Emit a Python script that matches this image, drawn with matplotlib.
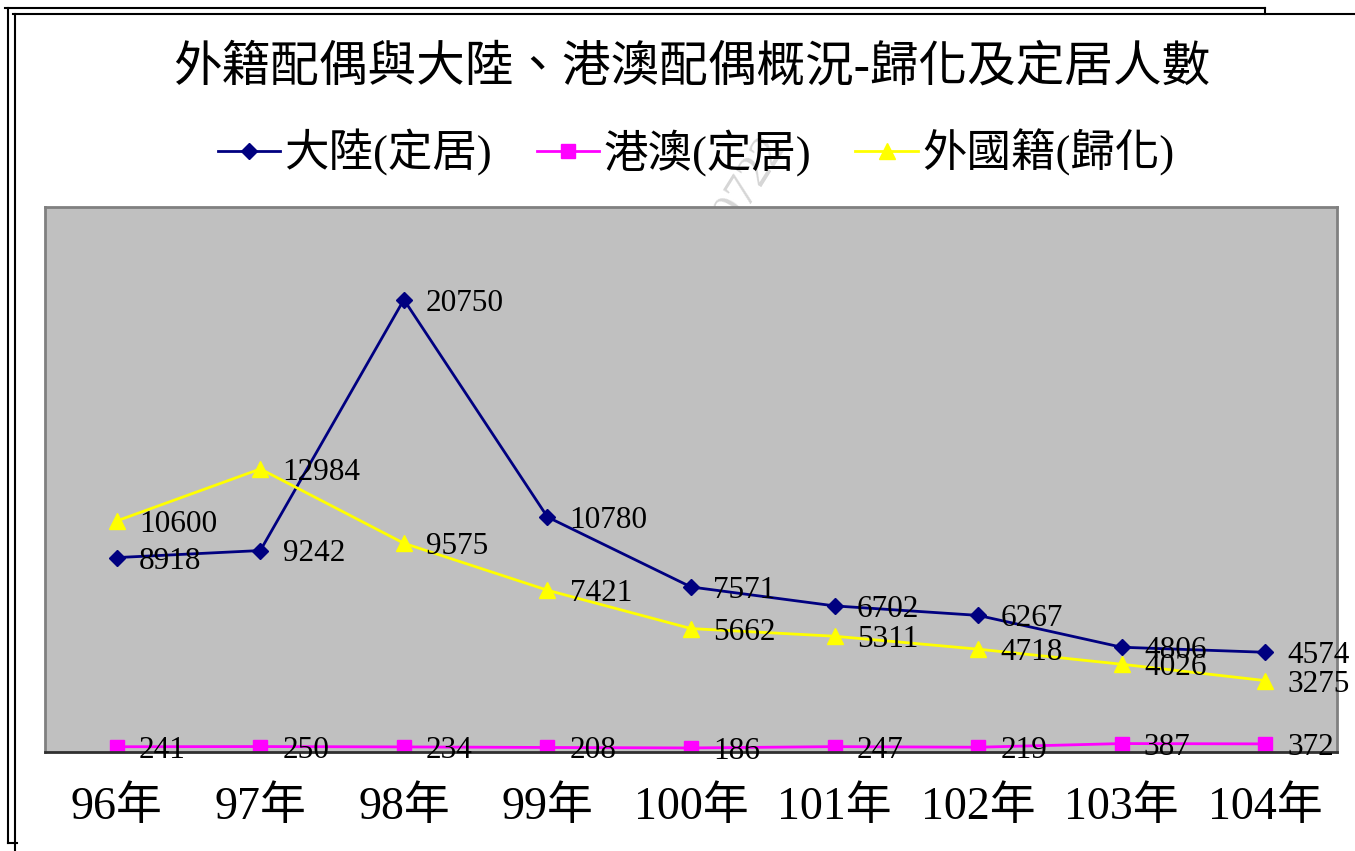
import matplotlib
matplotlib.use('Agg')
import matplotlib.pyplot as plt
import matplotlib.lines

W, H = 1355, 851

years = ['96年', '97年', '98年', '99年', '100年', '101年', '102年', '103年', '104年']
mainland = [8918, 9242, 20750, 10780, 7571, 6702, 6267, 4806, 4574]
hk_macau = [241, 250, 234, 208, 186, 247, 219, 387, 372]
foreign = [10600, 12984, 9575, 7421, 5662, 5311, 4718, 4026, 3275]

CJK = ['Liberation Serif', 'Noto Sans CJK TC']
NUM = ['Liberation Serif', 'DejaVu Serif']


def fx(px):
    return px / W


def fy(py):
    return 1 - py / H


fig = plt.figure(figsize=(W / 100, H / 100), dpi=100)

# Page-frame lines around the chart.
for xs, ys in [((5, 1265), (8, 8)), ((1265, 1265), (8, 14)),
               ((8, 8), (8, 843)), ((8, 17), (843, 843)),
               ((13, 1355), (14, 14)), ((15, 15), (14, 851))]:
    fig.add_artist(matplotlib.lines.Line2D(
        [fx(x) for x in xs], [fy(y) for y in ys], color='black', lw=1.5))

# Faint watermark, partly hidden behind the plot area.
fig.text(fx(745), fy(190), '20722', rotation=58, fontsize=34, color='#d6d6d6',
         family=NUM, ha='center', va='center', zorder=-1)

ax = fig.add_axes([fx(45), fy(752), fx(1337) - fx(45), fy(207) - fy(752)])
ax.set_facecolor('#c0c0c0')
x = range(len(years))

l1, = ax.plot(x, mainland, color='#000080', lw=2, marker='D', ms=8,
              label='大陸(定居)')
l2, = ax.plot(x, hk_macau, color='#ff00ff', lw=2, marker='s', ms=10,
              label='港澳(定居)')
l3, = ax.plot(x, foreign, color='#ffff00', lw=2, marker='^', ms=11,
              label='外國籍(歸化)')

for series in (mainland, hk_macau, foreign):
    for i, v in enumerate(series):
        ax.annotate(str(v), xy=(i, v), xytext=(16, -2.5),
                    textcoords='offset points', ha='left', va='center',
                    fontsize=22.5, family=NUM, color='black',
                    annotation_clip=False)

ax.set_xlim(-0.5, len(years) - 0.5)
ax.set_ylim(0, 25000)
ax.set_yticks([])
ax.set_xticks(list(x))
ax.set_xticklabels(years, family=CJK, fontsize=33)
ax.tick_params(axis='x', length=0, pad=25)
for side in ('left', 'top', 'right'):
    ax.spines[side].set_color('#808080')
    ax.spines[side].set_linewidth(2)
ax.spines['bottom'].set_color('#303030')
ax.spines['bottom'].set_linewidth(2)

fig.text(fx(692), fy(68), '外籍配偶與大陸、港澳配偶概況-歸化及定居人數',
         ha='center', va='center', fontsize=35, family=CJK)

fig.legend(handles=[l1, l2, l3], loc='center',
           bbox_to_anchor=(fx(696), fy(152)), ncol=3, frameon=False,
           prop=dict(family=CJK, size=32), handlelength=1.4,
           handletextpad=0.1, columnspacing=1.0)

fig.savefig('out.png', dpi=100)
